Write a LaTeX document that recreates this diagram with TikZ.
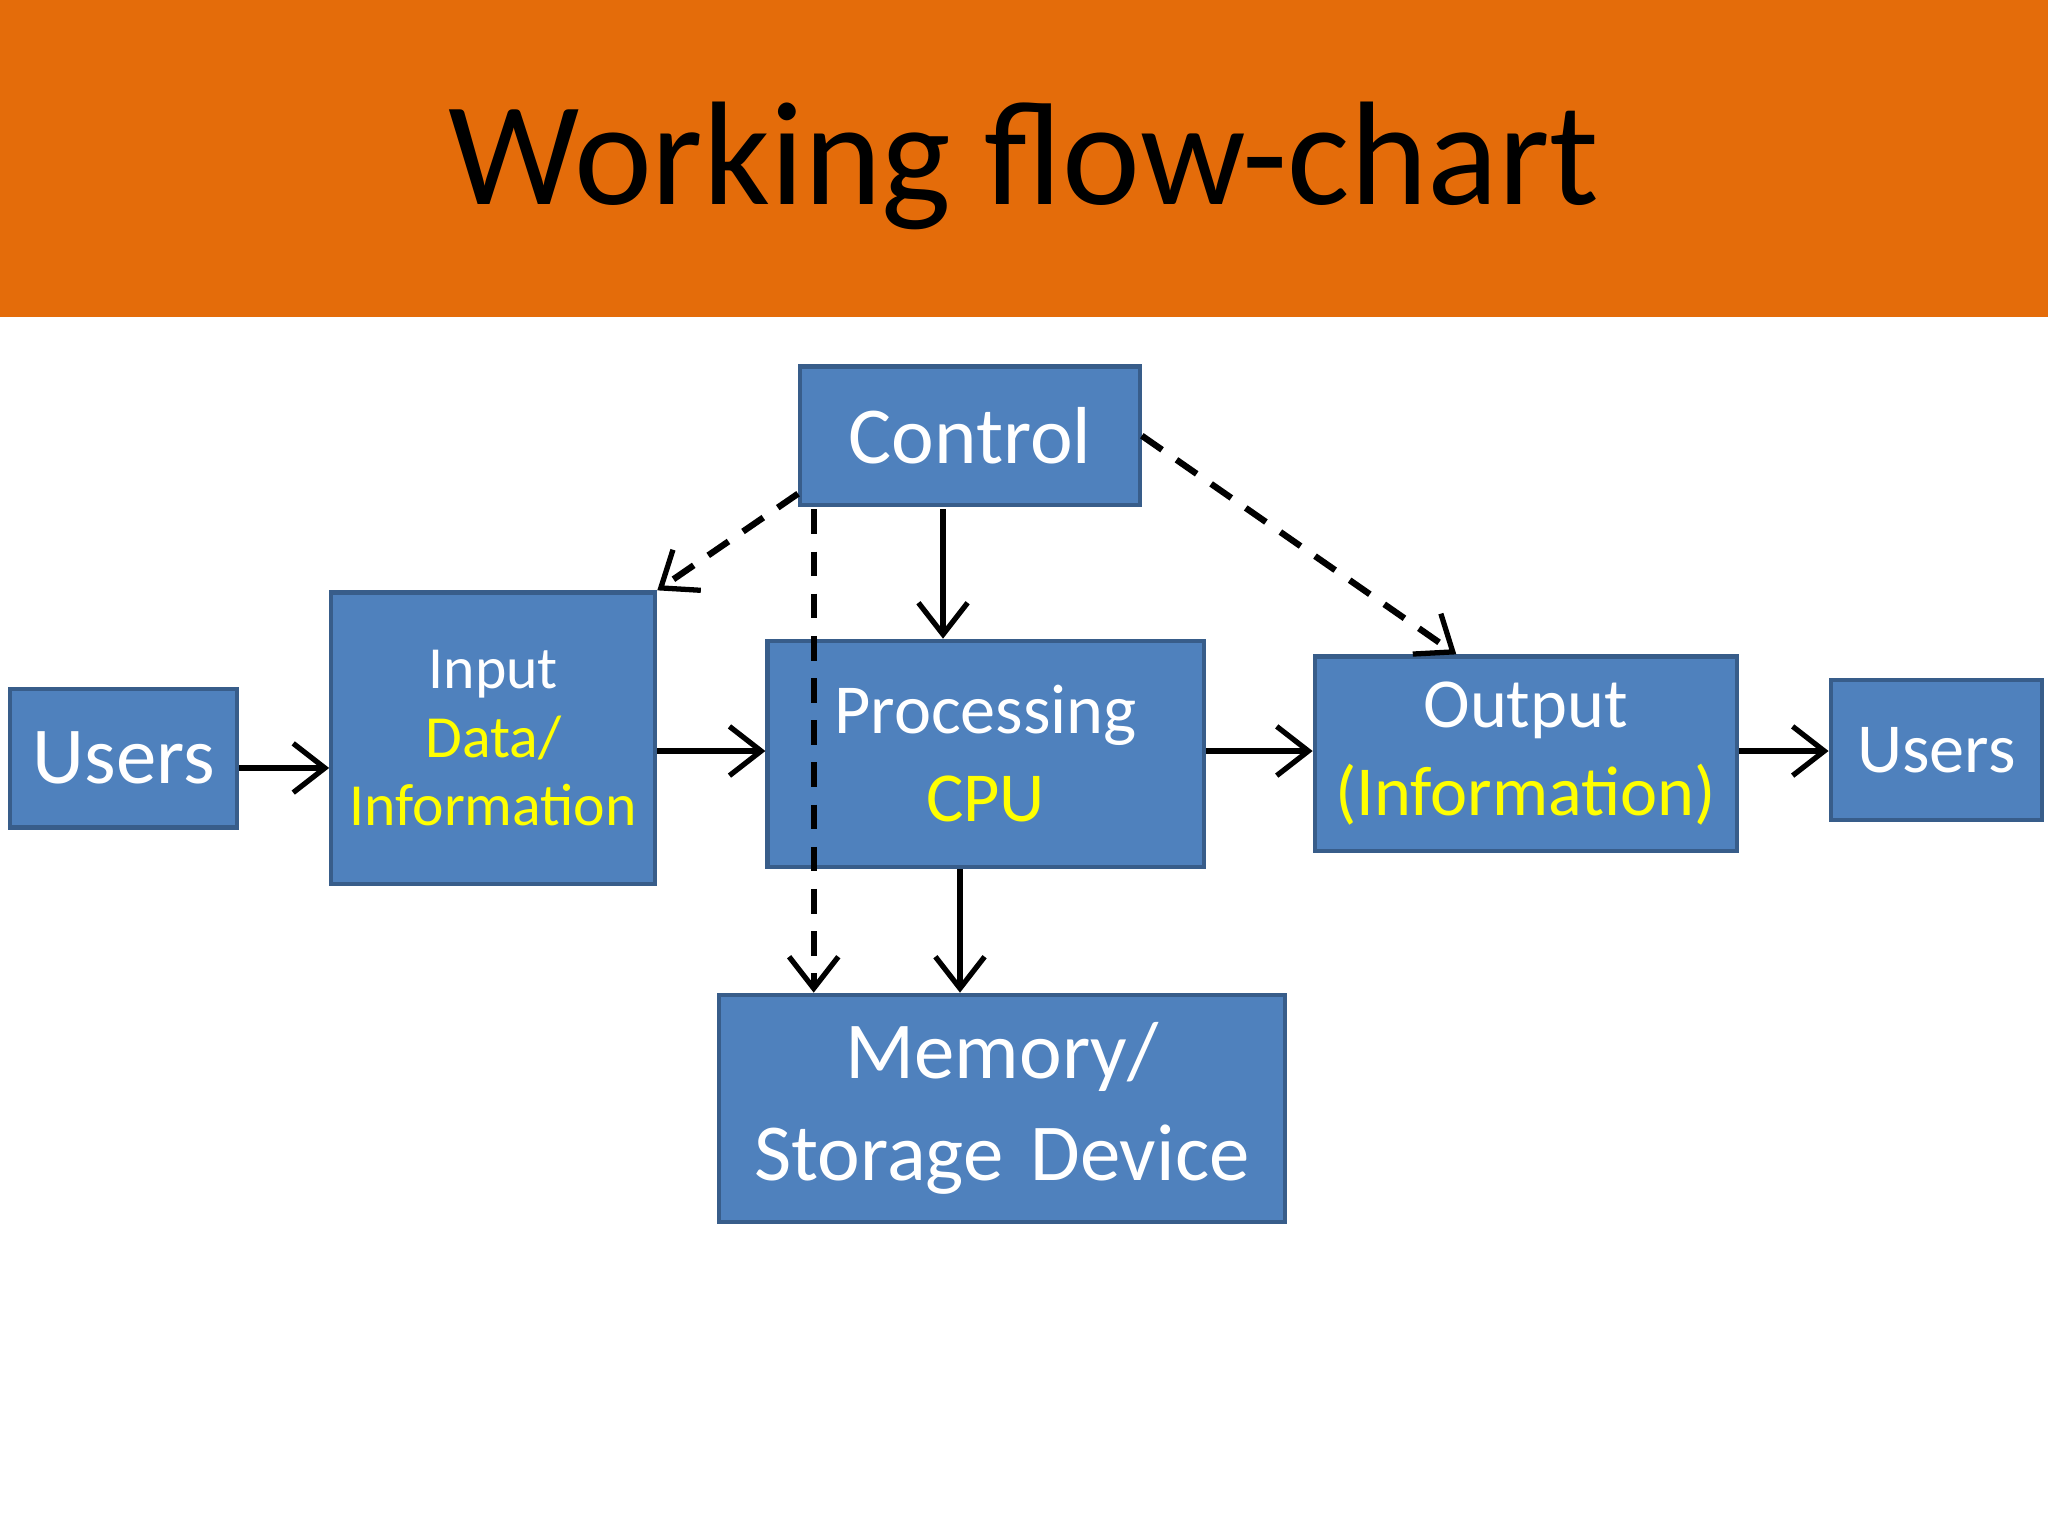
\documentclass[tikz,border=0pt]{standalone}
\usepackage{fontspec}
\setmainfont{Carlito}
\usetikzlibrary{arrows.meta}
\definecolor{band}{HTML}{E46C0A}
\definecolor{boxf}{HTML}{4F81BD}
\definecolor{boxd}{HTML}{385D8A}
\definecolor{ylw}{HTML}{FFFF00}
\begin{document}
\begin{tikzpicture}[x=0.013061cm,y=-0.013061cm,
  box/.style={draw=boxd,line width=1.2pt,fill=boxf,text=white,align=center,inner sep=0pt,anchor=north west},
  arr/.style={-{Straight Barb[length=9pt,width=14pt,line width=1.5pt]},line width=1.8pt,black},
  dsh/.style={arr,dash pattern=on 7pt off 5pt}]
\useasboundingbox (0,0) rectangle (1568,1176);
\fill[white] (0,0) rectangle (1568,1176);
\fill[band] (0,0) rectangle (1568,243);
\node[font=\fontsize{42}{48}\selectfont] (title) at (784,127) {Working flow-chart};
\node[box,text width=174*0.013061cm, minimum height=106*0.013061cm,font=\fontsize{23}{27}\selectfont] (u1) at (6,526) {Users};
\node[box,text width=248*0.013061cm,minimum height=223*0.013061cm,font=\fontsize{17}{19.5}\selectfont] (in) at (252,452) {Input\\\textcolor{ylw}{Data/}\\\textcolor{ylw}{Information}};
\node[box,text width=260*0.013061cm,minimum height=106*0.013061cm,font=\fontsize{23}{27}\selectfont] (ctl) at (611,279) {Control};
\node[box,text width=334*0.013061cm,minimum height=173*0.013061cm,font=\fontsize{20}{23}\selectfont] (proc) at (586,489) {Processing\\[2pt]\textcolor{ylw}{CPU}};
\node[box,text width=323*0.013061cm,minimum height=149*0.013061cm,font=\fontsize{20}{23}\selectfont] (out) at (1005,501) {Output\\[2pt]\textcolor{ylw}{(Information)}};
\node[box,text width=162*0.013061cm,minimum height=107*0.013061cm,font=\fontsize{20}{24}\selectfont] (u2) at (1400,519) {Users};
\node[box,text width=433*0.013061cm,minimum height=174*0.013061cm,font=\fontsize{23}{27}\selectfont] (mem) at (549,760) {Memory/\\[2pt]Storage Device};
\draw[arr] (u1.east |- 0,588) -- (in.west |- 0,588);
\draw[arr] (in.east |- 0,575) -- (proc.west |- 0,575);
\draw[arr] (proc.east |- 0,575) -- (out.west |- 0,575);
\draw[arr] (out.east |- 0,575) -- (u2.west |- 0,575);
\draw[arr] (722,390) -- (proc.north -| 722,0);
\draw[arr] (proc.south -| 735,0) -- (mem.north -| 735,0);
\draw[dsh] (611,378) -- (in.north east);
\draw[dsh] (623,390) -- (mem.north -| 623,0);
\draw[dsh] (ctl.east) -- (out.north -| 1115,0);
\end{tikzpicture}
\end{document}
